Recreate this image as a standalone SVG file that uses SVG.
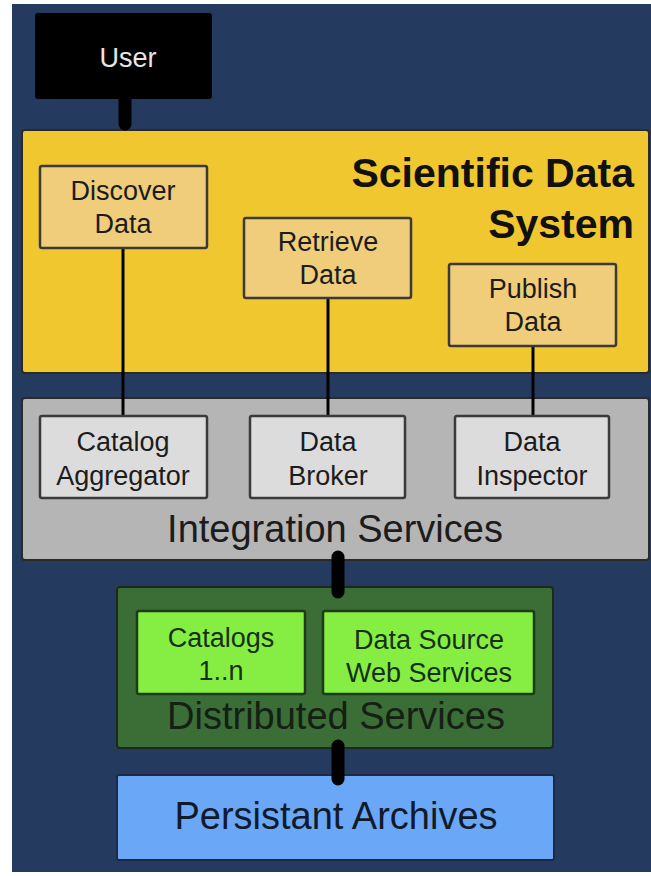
<svg xmlns="http://www.w3.org/2000/svg" width="651" height="876" viewBox="0 0 651 876">
<style>
.t{font-family:"Liberation Sans",Arial,sans-serif;text-anchor:middle;fill:#1c1c1c}
.s{font-size:27px}
.in{stroke:#3a3a3a;stroke-width:2.5}
.c{stroke:#000;stroke-width:3;fill:none}
.ct{stroke:#000;stroke-width:13;stroke-linecap:round;fill:none}
.big{font-size:38px}
</style>
<rect width="651" height="876" fill="#ffffff"/>
<rect x="12" y="4" width="639" height="868" fill="#243a5f"/>
<g id="sds">
<rect x="22" y="130" width="627" height="243" rx="3" fill="#f1c72f" stroke="#2a2a2a" stroke-width="2"/>
<text x="634" y="187" font-family="Liberation Sans,Arial,sans-serif" font-weight="bold" font-size="41" text-anchor="end" fill="#111">Scientific Data</text>
<text x="634" y="238" font-family="Liberation Sans,Arial,sans-serif" font-weight="bold" font-size="41" text-anchor="end" fill="#111">System</text>
</g>
<g id="integration">
<rect x="22" y="398" width="627" height="162" rx="3" fill="#b5b5b5" stroke="#2a2a2a" stroke-width="2"/>
<text class="t big" x="335" y="542">Integration Services</text>
</g>
<g id="distributed">
<rect x="117" y="587" width="436" height="161" rx="3" fill="#3b6d36" stroke="#1c2a1c" stroke-width="2"/>
<text class="t big" x="336" y="729" style="fill:#142014">Distributed Services</text>
</g>
<g id="archives">
<rect x="117" y="775" width="437" height="85" rx="2" fill="#6ba7f7" stroke="#1c2a44" stroke-width="2"/>
<text class="t big" x="336" y="829" style="fill:#111a2a">Persistant Archives</text>
</g>
<g id="connectors">
<line class="ct" x1="125" y1="99" x2="125" y2="124"/>
<line class="c" x1="123" y1="248" x2="123" y2="416"/>
<line class="c" x1="328" y1="298" x2="328" y2="416"/>
<line class="c" x1="533" y1="346" x2="533" y2="416"/>
<line class="ct" x1="338" y1="557" x2="338" y2="592"/>
<line class="ct" x1="338" y1="746" x2="338" y2="779"/>
</g>
<g id="user">
<rect x="35" y="13" width="177" height="86" rx="3" fill="#000"/>
<text class="t s" x="128" y="67" style="fill:#e6e6e6">User</text>
</g>
<g id="discover">
<rect class="in" x="40" y="166" width="167" height="82" rx="2" fill="#f0cd7b"/>
<text class="t s" x="123" y="200">Discover</text>
<text class="t s" x="123" y="233">Data</text>
</g>
<g id="retrieve">
<rect class="in" x="244" y="218" width="167" height="80" rx="2" fill="#f0cd7b"/>
<text class="t s" x="328" y="251">Retrieve</text>
<text class="t s" x="328" y="284">Data</text>
</g>
<g id="publish">
<rect class="in" x="449" y="264" width="167" height="82" rx="2" fill="#f0cd7b"/>
<text class="t s" x="533" y="298">Publish</text>
<text class="t s" x="533" y="331">Data</text>
</g>
<g id="catalog-aggregator">
<rect class="in" x="40" y="416" width="167" height="82" rx="2" fill="#dcdcdc"/>
<text class="t s" x="123" y="451">Catalog</text>
<text class="t s" x="123" y="485">Aggregator</text>
</g>
<g id="data-broker">
<rect class="in" x="250" y="416" width="155" height="82" rx="2" fill="#dcdcdc"/>
<text class="t s" x="328" y="451">Data</text>
<text class="t s" x="328" y="485">Broker</text>
</g>
<g id="data-inspector">
<rect class="in" x="455" y="416" width="154" height="82" rx="2" fill="#dcdcdc"/>
<text class="t s" x="532" y="451">Data</text>
<text class="t s" x="532" y="485">Inspector</text>
</g>
<g id="catalogs">
<rect class="in" x="137" y="611" width="168" height="83" rx="2" fill="#86ee42" style="stroke:#1f3a1a"/>
<text class="t s" x="221" y="647" style="fill:#163016">Catalogs</text>
<text class="t s" x="221" y="680" style="fill:#163016">1..n</text>
</g>
<g id="datasource">
<rect class="in" x="323" y="611" width="211" height="83" rx="2" fill="#86ee42" style="stroke:#1f3a1a"/>
<text class="t s" x="429" y="649" style="fill:#163016">Data Source</text>
<text class="t s" x="429" y="682" style="fill:#163016">Web Services</text>
</g>
</svg>
